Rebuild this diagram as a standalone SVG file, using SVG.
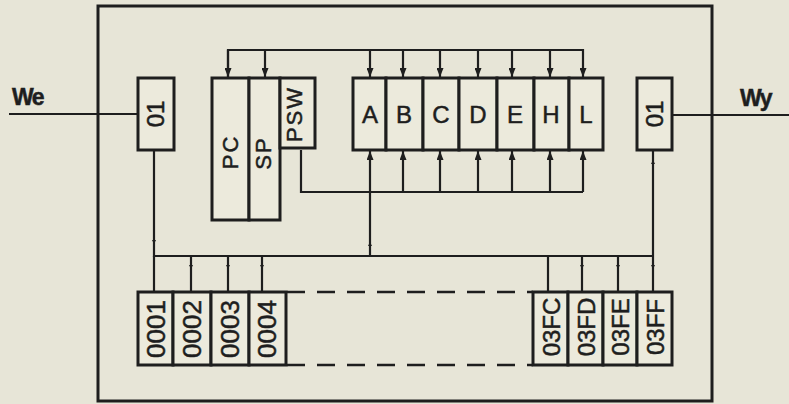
<svg xmlns="http://www.w3.org/2000/svg" width="789" height="404" viewBox="0 0 789 404">
<defs>
<style>
.bg{fill:#e7e5d7}
.box{fill:none;stroke:#1e1e1e;stroke-width:3}
.cell{fill:#eceadc;stroke:#1e1e1e;stroke-width:3}
.ln{fill:none;stroke:#1e1e1e;stroke-width:2.2}
.dash{fill:none;stroke:#1e1e1e;stroke-width:2.5;stroke-dasharray:18 12}
.t{font-family:"Liberation Sans",Arial,sans-serif;fill:#1e1e1e;stroke:#1e1e1e;stroke-width:0.5;text-anchor:middle}
.reg{font-size:24px}
.rot{font-size:22px;letter-spacing:2px}
.mem{font-size:26px}
.memr{font-size:24px}
.io{font-size:23px;font-weight:bold;letter-spacing:-1.5px;text-anchor:start}
.tick{fill:#1e1e1e}
</style>
<marker id="ah" markerUnits="userSpaceOnUse" viewBox="0 0 9 7" markerWidth="9" markerHeight="7" refX="9" refY="3.5" orient="auto">
<path d="M0,0 L9,3.5 L0,7 z" fill="#1e1e1e"/>
</marker>
</defs>
<rect class="bg" x="0" y="0" width="789" height="404"/>

<g id="frame">
<rect class="box" x="98" y="6" width="614" height="395"/>
</g>

<g id="connectors">
<line class="ln" x1="9" y1="114" x2="138" y2="114"/>
<line class="ln" x1="672" y1="115" x2="789" y2="115"/>
<polyline class="ln" points="228,77 228,50 583,50 583,77" marker-end="url(#ah)"/>
<line class="ln" x1="228" y1="50" x2="228" y2="77" marker-end="url(#ah)"/>
<line class="ln" x1="265" y1="50" x2="265" y2="77" marker-end="url(#ah)"/>
<line class="ln" x1="370" y1="50" x2="370" y2="77" marker-end="url(#ah)"/>
<line class="ln" x1="403" y1="50" x2="403" y2="77" marker-end="url(#ah)"/>
<line class="ln" x1="440" y1="50" x2="440" y2="77" marker-end="url(#ah)"/>
<line class="ln" x1="478" y1="50" x2="478" y2="77" marker-end="url(#ah)"/>
<line class="ln" x1="512" y1="50" x2="512" y2="77" marker-end="url(#ah)"/>
<line class="ln" x1="550" y1="50" x2="550" y2="77" marker-end="url(#ah)"/>
<polyline class="ln" points="301,150 301,192 583,192"/>
<line class="ln" x1="370" y1="256" x2="370" y2="151" marker-end="url(#ah)"/>
<line class="ln" x1="403" y1="192" x2="403" y2="151" marker-end="url(#ah)"/>
<line class="ln" x1="440" y1="192" x2="440" y2="151" marker-end="url(#ah)"/>
<line class="ln" x1="478" y1="192" x2="478" y2="151" marker-end="url(#ah)"/>
<line class="ln" x1="512" y1="192" x2="512" y2="151" marker-end="url(#ah)"/>
<line class="ln" x1="550" y1="192" x2="550" y2="151" marker-end="url(#ah)"/>
<line class="ln" x1="583" y1="192" x2="583" y2="151" marker-end="url(#ah)"/>
<polyline class="ln" points="154,150 154,256 653,256"/>
<line class="ln" x1="154" y1="256" x2="154" y2="292"/>
<line class="ln" x1="653" y1="150" x2="653" y2="292"/>
<line class="ln" x1="191" y1="256" x2="191" y2="292"/>
<line class="ln" x1="228" y1="256" x2="228" y2="292"/>
<line class="ln" x1="262" y1="256" x2="262" y2="292"/>
<line class="ln" x1="548" y1="256" x2="548" y2="292"/>
<line class="ln" x1="582" y1="256" x2="582" y2="292"/>
<line class="ln" x1="618" y1="256" x2="618" y2="292"/>
<path class="tick" d="M152,240 L156,240 L154,244 z M189,265 L193,265 L191,269 z M226,265 L230,265 L228,269 z M260,265 L264,265 L262,269 z M580,265 L584,265 L582,269 z M616,265 L620,265 L618,269 z M651,265 L655,265 L653,269 z M368,246 L372,246 L370,242 z M651,164 L655,164 L653,160 z"/>
<line class="dash" x1="287" y1="292" x2="533" y2="292"/>
<line class="dash" x1="287" y1="365" x2="533" y2="365"/>
</g>

<g id="in-label"><text class="t io" x="12" y="105">We</text></g>
<g id="out-label"><text class="t io" x="740" y="106">Wy</text></g>

<g id="port-in">
<rect class="cell" x="138" y="78" width="36" height="72"/>
<text class="t reg" transform="translate(156,114) rotate(-90)" y="8.3" font-size="23">01</text>
</g>
<g id="port-out">
<rect class="cell" x="637" y="78" width="35" height="72"/>
<text class="t reg" transform="translate(655,114) rotate(-90)" y="8.3" font-size="23">01</text>
</g>

<g id="PC">
<rect class="cell" x="212" y="78" width="37" height="142"/>
<text class="t rot" transform="translate(230,152) rotate(-90)" y="8">PC</text>
</g>
<g id="SP">
<rect class="cell" x="249" y="78" width="31" height="142"/>
<text class="t rot" transform="translate(263,153) rotate(-90)" y="8">SP</text>
</g>
<g id="PSW">
<rect class="cell" x="280" y="78" width="35" height="70"/>
<text class="t rot" transform="translate(294,114) rotate(-90)" y="8">PSW</text>
</g>

<g id="reg-A"><rect class="cell" x="353" y="78" width="33" height="72"/><text class="t reg" x="370" y="123">A</text></g>
<g id="reg-B"><rect class="cell" x="386" y="78" width="37" height="72"/><text class="t reg" x="404" y="123">B</text></g>
<g id="reg-C"><rect class="cell" x="423" y="78" width="36" height="72"/><text class="t reg" x="441" y="123">C</text></g>
<g id="reg-D"><rect class="cell" x="459" y="78" width="38" height="72"/><text class="t reg" x="478" y="123">D</text></g>
<g id="reg-E"><rect class="cell" x="497" y="78" width="37" height="72"/><text class="t reg" x="515" y="123">E</text></g>
<g id="reg-H"><rect class="cell" x="534" y="78" width="35" height="72"/><text class="t reg" x="551" y="123">H</text></g>
<g id="reg-L"><rect class="cell" x="569" y="78" width="34" height="72"/><text class="t reg" x="586" y="123">L</text></g>

<g id="mem-0001"><rect class="cell" x="138" y="292" width="35" height="73"/><text class="t mem" transform="translate(156,329) rotate(-90)" y="9.4">0001</text></g>
<g id="mem-0002"><rect class="cell" x="173" y="292" width="38" height="73"/><text class="t mem" transform="translate(192,329) rotate(-90)" y="9.4">0002</text></g>
<g id="mem-0003"><rect class="cell" x="211" y="292" width="38" height="73"/><text class="t mem" transform="translate(230,329) rotate(-90)" y="9.4">0003</text></g>
<g id="mem-0004"><rect class="cell" x="249" y="292" width="37" height="73"/><text class="t mem" transform="translate(267,329) rotate(-90)" y="9.4">0004</text></g>

<g id="mem-03FC"><rect class="cell" x="533" y="292" width="35" height="73"/><text class="t memr" transform="translate(551,327) rotate(-90)" y="8.6">03FC</text></g>
<g id="mem-03FD"><rect class="cell" x="568" y="292" width="35" height="73"/><text class="t memr" transform="translate(586,327) rotate(-90)" y="8.6">03FD</text></g>
<g id="mem-03FE"><rect class="cell" x="603" y="292" width="34" height="73"/><text class="t memr" transform="translate(620,327) rotate(-90)" y="8.6">03FE</text></g>
<g id="mem-03FF"><rect class="cell" x="637" y="292" width="35" height="73"/><text class="t memr" transform="translate(655,327) rotate(-90)" y="8.6">03FF</text></g>
</svg>
